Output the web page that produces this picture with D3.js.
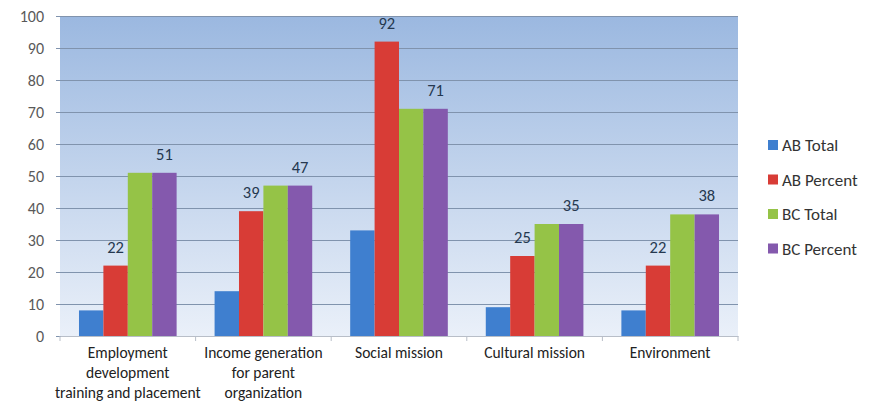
<!DOCTYPE html>
<html>
<head>
<meta charset="utf-8">
<script src="https://d3js.org/d3.v7.min.js"></script>
<style>
    body { margin: 0; background: #fff; }
    text { font-family: Calibri, Carlito, "Open Sans", sans-serif; }
</style>
</head>
<body>
<svg id="chart" width="877" height="404"></svg>
<script>
    const categories = [
        ["Employment", "development", "training and placement"],
        ["Income generation", "for parent", "organization"],
        ["Social mission"],
        ["Cultural mission"],
        ["Environment"]
    ];
    const seriesNames = ["AB Total", "AB Percent", "BC Total", "BC Percent"];
    const abTotal = [8, 14, 33, 9, 8];
    const abPercent = [22, 39, 92, 25, 22];
    const bcTotal = [51, 47, 71, 35, 38];
    const bcPercent = [51, 47, 71, 35, 38];
    const yTicks = [0, 10, 20, 30, 40, 50, 60, 70, 80, 90, 100];
    // only these series get a number on top
    const labelled = ["AB Percent", "BC Percent"];

    const colors = ["#3f7fcf", "#d83c36", "#95c347", "#8459ad"];
    const seriesValues = [abTotal, abPercent, bcTotal, bcPercent];

    const svg = d3.select("#chart");
    const plotL = 60, plotR = 738, plotT = 16, plotB = 336;

    const x = d3.scaleBand().domain(d3.range(categories.length)).range([plotL, plotR]).paddingInner(0.28).paddingOuter(0.14);
    const xs = d3.scaleBand().domain(seriesNames).range([0, x.bandwidth()]);
    const y = d3.scaleLinear().domain([0, 100]).range([plotB, plotT]);

    const defs = svg.append("defs");
    const grad = defs.append("linearGradient").attr("id", "bg").attr("x1", 0).attr("y1", 0).attr("x2", 0).attr("y2", 1);
    grad.append("stop").attr("offset", "0%").attr("stop-color", "#9bb8e0");
    grad.append("stop").attr("offset", "100%").attr("stop-color", "#eaf0f9");

    svg.append("rect")
        .attr("x", plotL).attr("y", plotT)
        .attr("width", plotR - plotL).attr("height", plotB - plotT)
        .attr("fill", "url(#bg)");

    // y axis with gridlines
    const yAxis = svg.append("g")
        .attr("transform", `translate(${plotL},0)`)
        .call(d3.axisLeft(y).tickValues(yTicks).tickSize(-(plotR - plotL)).tickPadding(16));
    yAxis.select(".domain").remove();
    yAxis.selectAll(".tick line").attr("stroke", "#8093ad").attr("stroke-width", 1).attr("x1", -4);
    yAxis.selectAll(".tick text").attr("fill", "#595959").style("font-size", "16px");

    // x axis
    const xAxis = svg.append("g")
        .attr("transform", `translate(0,${plotB})`)
        .call(d3.axisBottom(x).tickSize(0).tickFormat(""));
    xAxis.select(".domain").attr("stroke", "#b8bec8");

    const edges = d3.range(categories.length + 1).map(i => i === categories.length ? plotR : x(i) - x.step() * x.paddingInner() / 2);
    svg.append("g").selectAll("line").data(edges).join("line")
        .attr("x1", d => d).attr("x2", d => d)
        .attr("y1", plotB).attr("y2", plotB + 5)
        .attr("stroke", "#b8bec8");

    const catLabels = svg.append("g").selectAll("text").data(categories).join("text")
        .attr("x", (d, i) => x(i) + x.bandwidth() / 2)
        .attr("y", plotB + 22)
        .attr("text-anchor", "middle")
        .attr("fill", "#222")
        .style("font-size", "15.5px");
    catLabels.selectAll("tspan").data(d => d).join("tspan")
        .attr("x", function () { return d3.select(this.parentNode).attr("x"); })
        .attr("dy", (d, i) => i === 0 ? 0 : 20)
        .text(d => d);

    // bars
    const groups = svg.append("g").selectAll("g").data(categories).join("g")
        .attr("transform", (d, i) => `translate(${x(i)},0)`);
    groups.selectAll("rect")
        .data((d, i) => seriesNames.map((s, k) => ({ s, k, v: seriesValues[k][i] })))
        .join("rect")
        .attr("x", d => xs(d.s))
        .attr("width", xs.bandwidth())
        .attr("y", d => y(d.v))
        .attr("height", d => y(0) - y(d.v))
        .attr("fill", d => colors[d.k]);

    groups.selectAll("text.val")
        .data((d, i) => seriesNames.map((s, k) => ({ s, k, v: seriesValues[k][i] })).filter(d => labelled.includes(d.s)))
        .join("text")
        .attr("class", "val")
        .attr("x", d => xs(d.s) + xs.bandwidth() / 2)
        .attr("y", d => y(d.v) - 13)
        .attr("text-anchor", "middle")
        .attr("fill", "#25384f")
        .style("font-size", "16.5px")
        .text(d => d.v);

    // legend
    const legend = svg.append("g").attr("transform", "translate(768,145)");
    const item = legend.selectAll("g").data(seriesNames).join("g")
        .attr("transform", (d, i) => `translate(0,${i * 34.5})`);
    item.append("rect").attr("x", 0).attr("y", -5).attr("width", 10).attr("height", 10)
        .attr("fill", (d, i) => colors[i]);
    item.append("text").attr("x", 14).attr("y", 6)
        .attr("fill", "#333").style("font-size", "17px")
        .text(d => d);
</script>
</body>
</html>
